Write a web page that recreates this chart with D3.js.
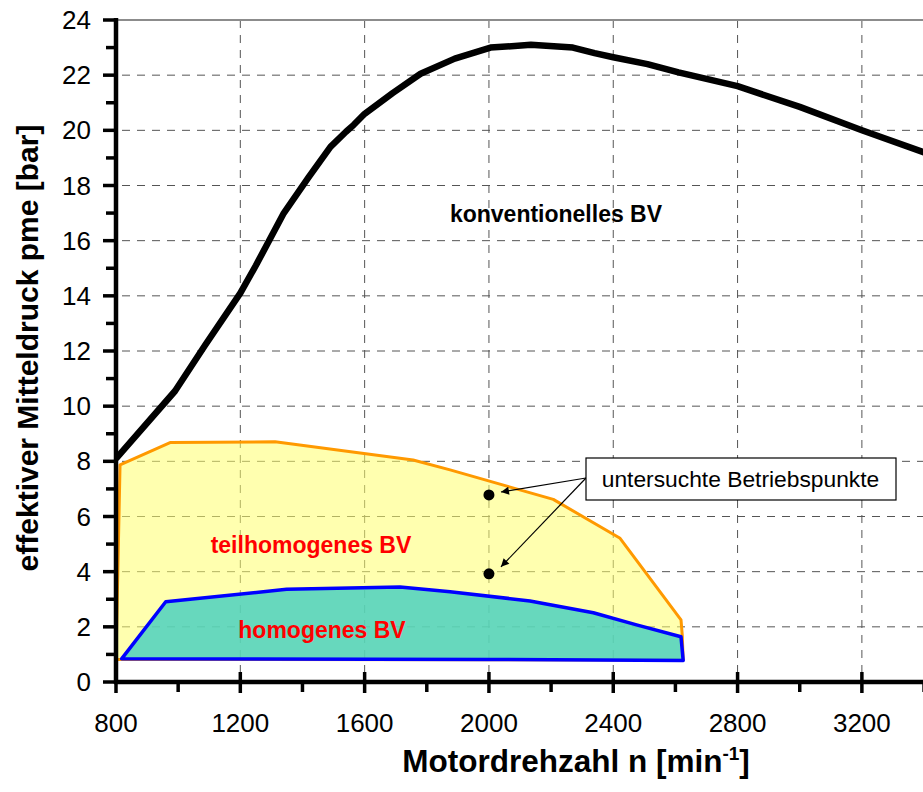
<!DOCTYPE html>
<html>
<head>
<meta charset="utf-8">
<script src="https://cdn.jsdelivr.net/npm/d3@7"></script>
<style>
  html, body { margin: 0; padding: 0; background: #fff; }
  svg { display: block; font-family: "Liberation Sans", Arial, sans-serif; }
</style>
</head>
<body>
<svg id="chart" width="923" height="792"></svg>
<script>
// Engine speed [1/min] and brake mean effective pressure [bar]
const fullLoadSpeed = [800, 990, 1086, 1200, 1250, 1340, 1420, 1490, 1540, 1565, 1600, 1690, 1780, 1890, 2005, 2135, 2270, 2340, 2400, 2510, 2610, 2800, 3000, 3200, 3400, 3500];
const fullLoadPme   = [8.1, 10.55, 12.2, 14.1, 15.1, 17.0, 18.3, 19.4, 19.95, 20.2, 20.6, 21.35, 22.05, 22.6, 23.0, 23.1, 23.0, 22.8, 22.65, 22.4, 22.1, 21.6, 20.85, 20.0, 19.2, 18.8];

// Partially homogeneous operating range (closed outline)
const partHomSpeed = [800, 813, 974, 1312, 1756, 1875, 2207, 2422, 2618, 2622, 2625, 818];
const partHomPme   = [0.82, 7.87, 8.68, 8.71, 8.05, 7.69, 6.62, 5.21, 2.25, 1.7, 0.8, 0.82];

// Homogeneous operating range (closed outline)
const homSpeed = [818, 960, 1349, 1714, 1875, 2132, 2336, 2475, 2618, 2625, 2000, 818];
const homPme   = [0.84, 2.91, 3.36, 3.44, 3.27, 2.94, 2.51, 2.07, 1.64, 0.78, 0.82, 0.84];

// Investigated operating points
const pointSpeed = [2000, 2000];
const pointPme   = [6.78, 3.92];

const xMajorTicks = [800, 1200, 1600, 2000, 2400, 2800, 3200];
const xMinorTicks = [1000, 1400, 1800, 2200, 2600, 3000, 3400];
const yMajorTicks = [0, 2, 4, 6, 8, 10, 12, 14, 16, 18, 20, 22, 24];
const yMinorTicks = [1, 3, 5, 7, 9, 11, 13, 15, 17, 19, 21, 23];

const svg = d3.select("#chart");
const W = 923, H = 792;

const x = d3.scaleLinear().domain([800, 3600]).range([116, 986.2]);
const y = d3.scaleLinear().domain([0, 24]).range([682, 20]);

const plotLeft = x(800), plotTop = y(24), plotBottom = y(0);

svg.append("defs").append("clipPath").attr("id", "plotClip")
  .append("rect").attr("x", plotLeft).attr("y", plotTop - 5)
  .attr("width", W - plotLeft).attr("height", plotBottom - plotTop + 5);

svg.select("defs").append("marker")
  .attr("id", "arrowHead").attr("viewBox", "0 0 10 10")
  .attr("refX", 10).attr("refY", 5)
  .attr("markerWidth", 12).attr("markerHeight", 8)
  .attr("markerUnits", "userSpaceOnUse")
  .attr("orient", "auto")
  .append("path").attr("d", "M0,0 L10,5 L0,10 Z").attr("fill", "#000");

// Grid
const grid = svg.append("g");
grid.selectAll("line.h").data(yMajorTicks.filter(d => d > 0 && d < 24)).join("line")
  .attr("x1", plotLeft).attr("x2", W)
  .attr("y1", d => y(d)).attr("y2", d => y(d))
  .attr("stroke", "#555").attr("stroke-width", 1).attr("stroke-dasharray", "8,7")
  .attr("stroke-dashoffset", -6);
grid.selectAll("line.v").data(xMajorTicks.filter(d => d > 800)).join("line")
  .attr("x1", d => x(d)).attr("x2", d => x(d))
  .attr("y1", plotTop).attr("y2", plotBottom)
  .attr("stroke", "#555").attr("stroke-width", 1).attr("stroke-dasharray", "8,7");
grid.append("line")
  .attr("x1", plotLeft).attr("x2", W).attr("y1", plotTop).attr("y2", plotTop)
  .attr("stroke", "#8c8c8c").attr("stroke-width", 2);

const polyLine = d3.line().x(d => x(d[0])).y(d => y(d[1]));
const plot = svg.append("g").attr("clip-path", "url(#plotClip)");

// Partially homogeneous area
plot.append("path")
  .datum(d3.zip(partHomSpeed, partHomPme))
  .attr("d", d => polyLine(d) + "Z")
  .attr("fill", "rgba(255,255,110,0.55)")
  .attr("stroke", "#ff9900").attr("stroke-width", 3).attr("stroke-linejoin", "round");

// Homogeneous area
plot.append("path")
  .datum(d3.zip(homSpeed, homPme))
  .attr("d", d => polyLine(d) + "Z")
  .attr("fill", "rgba(70,208,192,0.82)")
  .attr("stroke", "#0000ff").attr("stroke-width", 3.5).attr("stroke-linejoin", "round");

// Full-load curve, conventional combustion
plot.append("path")
  .datum(d3.zip(fullLoadSpeed, fullLoadPme))
  .attr("d", polyLine)
  .attr("fill", "none").attr("stroke", "#000").attr("stroke-width", 6.5)
  .attr("stroke-linejoin", "round");

// Operating points
plot.selectAll("circle.pt").data(d3.zip(pointSpeed, pointPme)).join("circle")
  .attr("cx", d => x(d[0])).attr("cy", d => y(d[1])).attr("r", 5.5).attr("fill", "#000");

// Axes
const axes = svg.append("g");
axes.append("line").attr("x1", plotLeft).attr("x2", plotLeft)
  .attr("y1", plotTop - 2).attr("y2", plotBottom + 2)
  .attr("stroke", "#000").attr("stroke-width", 4.5);
axes.append("line").attr("x1", plotLeft - 2).attr("x2", W)
  .attr("y1", plotBottom).attr("y2", plotBottom)
  .attr("stroke", "#000").attr("stroke-width", 4.5);

axes.selectAll("line.ymaj").data(yMajorTicks).join("line")
  .attr("x1", plotLeft - 13).attr("x2", plotLeft)
  .attr("y1", d => y(d)).attr("y2", d => y(d))
  .attr("stroke", "#000").attr("stroke-width", 3.5);
axes.selectAll("line.ymin").data(yMinorTicks).join("line")
  .attr("x1", plotLeft - 10).attr("x2", plotLeft)
  .attr("y1", d => y(d)).attr("y2", d => y(d))
  .attr("stroke", "#000").attr("stroke-width", 3.5);
axes.selectAll("line.xmaj").data(xMajorTicks).join("line")
  .attr("x1", d => x(d)).attr("x2", d => x(d))
  .attr("y1", plotBottom - 10).attr("y2", plotBottom + 11)
  .attr("stroke", "#000").attr("stroke-width", 3.5);
axes.selectAll("line.xmin").data(xMinorTicks).join("line")
  .attr("x1", d => x(d)).attr("x2", d => x(d))
  .attr("y1", plotBottom).attr("y2", plotBottom + 10)
  .attr("stroke", "#000").attr("stroke-width", 3.5);

axes.selectAll("text.ylab").data(yMajorTicks).join("text")
  .attr("x", 91).attr("y", d => y(d)).attr("dy", "0.35em")
  .attr("text-anchor", "end").attr("font-size", 26).attr("fill", "#000")
  .text(d => d);
axes.selectAll("text.xlab").data(xMajorTicks).join("text")
  .attr("x", d => x(d)).attr("y", 732)
  .attr("text-anchor", "middle").attr("font-size", 26).attr("fill", "#000")
  .text(d => d);

// Axis titles
const xt = svg.append("text").attr("x", 576).attr("y", 772)
  .attr("text-anchor", "middle").attr("font-size", 31.5).attr("font-weight", "bold");
xt.append("tspan").text("Motordrehzahl n [min");
xt.append("tspan").attr("font-size", 19).attr("dy", -12).text("-1");
xt.append("tspan").attr("dy", 12).text("]");

svg.append("text")
  .attr("transform", "translate(38,348) rotate(-90)")
  .attr("text-anchor", "middle").attr("font-size", 30).attr("font-weight", "bold")
  .text("effektiver Mitteldruck pme [bar]");

// Region labels
svg.append("text").attr("x", 556).attr("y", 222).attr("text-anchor", "middle")
  .attr("font-size", 23).attr("font-weight", "bold").attr("fill", "#000")
  .text("konventionelles BV");
svg.append("text").attr("x", 311).attr("y", 553).attr("text-anchor", "middle")
  .attr("font-size", 23).attr("font-weight", "bold").attr("fill", "#ff0000")
  .text("teilhomogenes BV");
svg.append("text").attr("x", 322).attr("y", 638).attr("text-anchor", "middle")
  .attr("font-size", 23).attr("font-weight", "bold").attr("fill", "#ff0000")
  .text("homogenes BV");

// Annotation box with arrows to the operating points
const boxX = 586, boxY = 458, boxW = 310, boxH = 42;
const origin = [boxX, boxY + 20];
svg.selectAll("line.arrow").data(d3.zip(pointSpeed, pointPme)).join("line")
  .attr("x1", origin[0]).attr("y1", origin[1])
  .attr("x2", d => x(d[0]) + 12).attr("y2", d => y(d[1]) - (d[1] > 5 ? 3 : 7))
  .attr("stroke", "#000").attr("stroke-width", 1.2)
  .attr("marker-end", "url(#arrowHead)");
svg.append("rect").attr("x", boxX).attr("y", boxY).attr("width", boxW).attr("height", boxH)
  .attr("fill", "#fff").attr("stroke", "#000").attr("stroke-width", 1.2);
svg.append("text").attr("x", boxX + boxW / 2 - 0.5).attr("y", 487)
  .attr("text-anchor", "middle").attr("font-size", 22.8).attr("fill", "#000")
  .text("untersuchte Betriebspunkte");
</script>
</body>
</html>
